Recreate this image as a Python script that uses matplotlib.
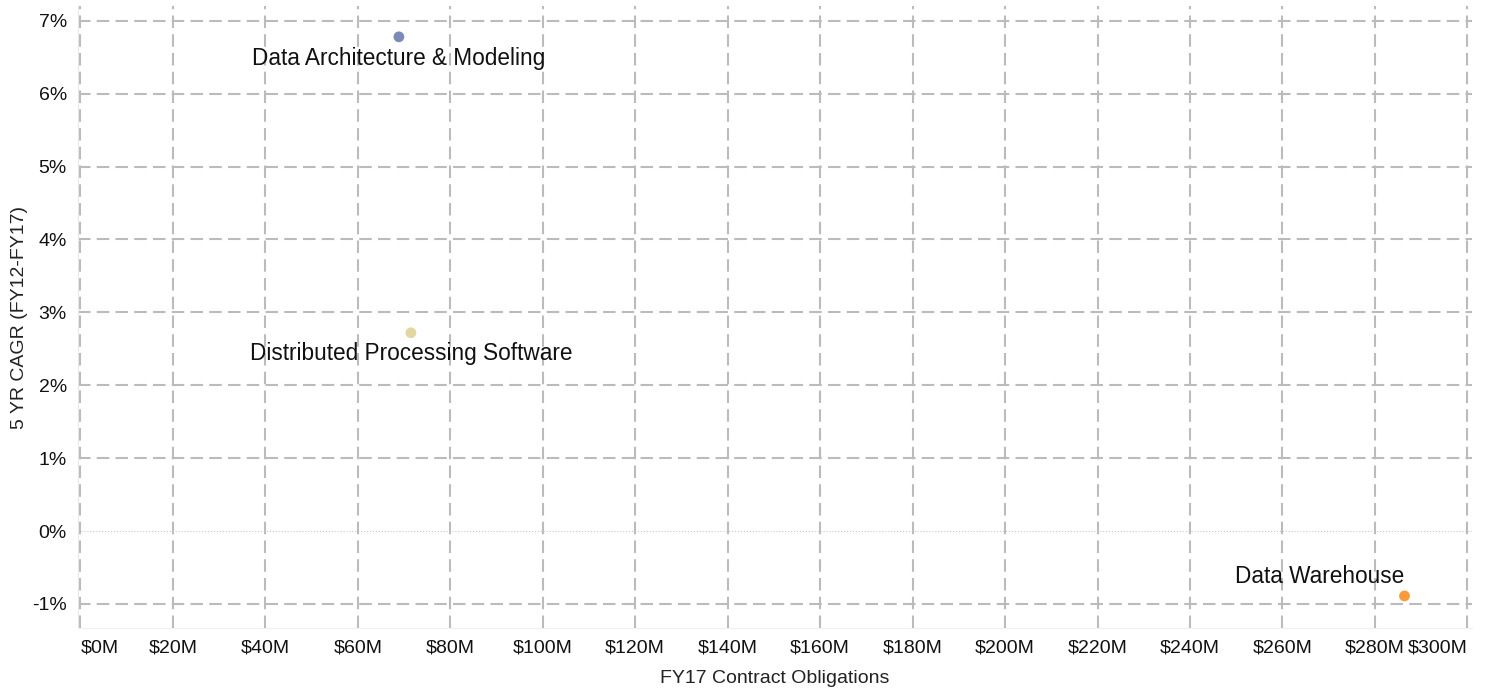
import matplotlib.pyplot as plt
from matplotlib.ticker import FuncFormatter

plt.rcParams['font.family'] = ['Liberation Sans', 'DejaVu Sans']

names = ["Data Architecture & Modeling", "Distributed Processing Software", "Data Warehouse"]
obligations = [68.9, 71.5, 286.4]   # $M
cagr = [6.78, 2.72, -0.89]          # %
colors = ["#7b8ab8", "#e2d6a3", "#f99a3b"]

fig = plt.figure(figsize=(14.89, 6.88), dpi=100)
ax = fig.add_axes([0.0524, 0.0872, 0.9362, 0.9038])

ax.scatter(obligations, cagr, c=colors, s=60, zorder=3, edgecolors='none')

# labels: first two below the point, the last one above-left
for i, (x, y, n) in enumerate(zip(obligations, cagr, names)):
    if i < 2:
        ax.annotate(n, (x, y), xytext=(0, -7), textcoords='offset points',
                    ha='center', va='top', fontsize=16.3, color='#111111')
    else:
        ax.annotate(n, (x, y), xytext=(0, 6), textcoords='offset points',
                    ha='right', va='bottom', fontsize=16.3, color='#111111')

ax.set_xlim(-0.5, 301)
ax.set_ylim(-1.33, 7.2)
ax.set_xticks(range(0, 301, 20))
ax.set_yticks(range(-1, 8))
ax.xaxis.set_major_formatter(FuncFormatter(lambda v, p: f"${v:.0f}M"))
ax.yaxis.set_major_formatter(FuncFormatter(lambda v, p: f"{v:.0f}%"))

ax.grid(True, color='#bbbbbb', linestyle=(0, (6, 3)), linewidth=1.5)
ax.axhline(0, color='#c8c8c8', linestyle=':', linewidth=0.8, zorder=2)
for s in ['top', 'right']:
    ax.spines[s].set_visible(False)
ax.spines['left'].set_color('#e8e8e8')
ax.spines['bottom'].set_color('#f0f0f0')
ax.tick_params(length=0, labelsize=14, pad=8, labelcolor='#111111')

labels = ax.get_xticklabels()
labels[0].set_ha('left')
labels[-1].set_ha('right')

ax.set_xlabel("FY17 Contract Obligations", fontsize=14, color='#222222', labelpad=10)
ax.set_ylabel("5 YR CAGR (FY12-FY17)", fontsize=14, color='#222222', labelpad=3)

# keep the zero line thin, not the dashed grid
for gl, v in zip(ax.get_ygridlines(), range(-1, 8)):
    if v == 0:
        gl.set_visible(False)

fig.savefig("out.png", dpi=100)
